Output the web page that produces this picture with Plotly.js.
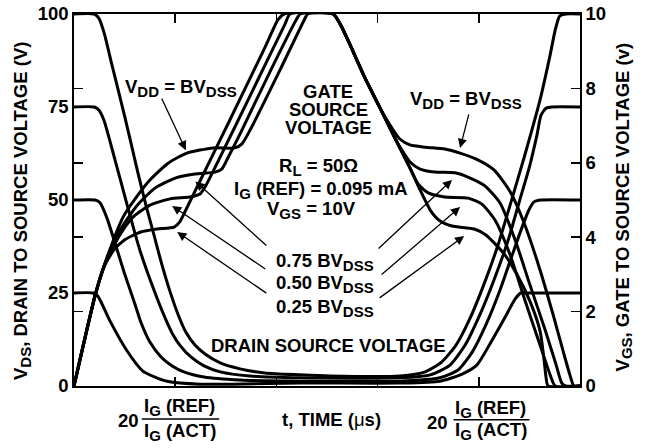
<!DOCTYPE html>
<html><head><meta charset="utf-8">
<script src="https://cdn.plot.ly/plotly-3.0.1.min.js"></script>
<style>html,body{margin:0;padding:0;background:#fff}</style>
</head><body>
<div id="chart" style="width:647px;height:448px"></div>
<script>
// time axis: 0..10 (arbitrary), drain voltage VDS (V), gate voltage VGS (V)
const d100_t = [0,0.40,0.49,0.59,0.75,1.01,1.26,1.42,1.58,1.74,1.90,2.06,2.21,2.39,2.59,2.89,3.28,3.77,4.47,5.06,6.44,6.94,7.27,7.55,7.83,8.12,8.38,8.62,8.91,9.21,9.41,9.51,9.60,9.72,10];
const d100_v = [100,100,98.9,95.2,86.3,72.0,57.5,48.7,40.6,32.5,25.3,19.1,14.5,11.0,8.6,6.2,4.6,3.5,3.0,2.7,2.7,3.8,6.5,11.0,18.3,28.0,37.9,48.7,62.1,76.9,89.0,95.7,99.5,100,100];

const d75_t = [0,0.40,0.49,0.59,0.81,1.05,1.30,1.58,1.80,1.94,2.09,2.31,2.57,2.89,3.48,4.47,6.44,7.04,7.43,7.73,8.02,8.30,8.58,8.81,9.01,9.15,9.23,9.33,9.45,10];
const d75_v = [75,75,74.2,71.5,60.8,48.7,36.6,25.8,18.3,14.2,11.0,7.8,5.4,3.8,2.7,2.2,2.2,3.0,5.6,11.0,19.1,28.5,39.2,50.0,59.4,67.5,72.8,74.7,75,75];

const d50_t = [0,0.42,0.51,0.65,0.99,1.21,1.32,1.50,1.72,1.94,2.17,2.57,3.28,4.47,6.44,7.23,7.59,7.87,8.14,8.42,8.66,8.85,8.99,9.09,9.21,10];
const d50_v = [50,50,49.3,45.2,30.6,21.8,17.2,11.8,7.8,5.4,3.8,2.4,1.6,1.3,1.3,2.2,4.3,9.1,16.4,25.8,35.2,42.5,47.3,49.5,50,50];

const d25_t = [0,0.38,0.47,0.71,1.05,1.36,1.60,1.84,2.49,3.14,4.47,6.44,7.23,7.67,7.96,8.22,8.50,8.72,8.83,8.97,10];
const d25_v = [25,25,24.2,17.5,9.4,4.0,2.4,1.3,0.5,0.5,0.8,0.8,1.3,3.2,5.6,11.3,18.0,23.4,25,25,25];

const g100_t = [0,0.43,0.67,0.97,1.25,1.50,1.86,2.23,2.75,3.18,3.32,3.48,4.07,4.55,4.62,5.12,5.26,5.45,5.75,6.05,6.28,6.44,6.64,6.94,7.33,7.63,7.98,8.30,8.62,8.91,9.21,9.47,9.66,9.80,9.88,10];
const g100_v = [0,2.50,3.52,4.54,5.11,5.54,5.99,6.26,6.40,6.40,6.51,6.88,8.49,9.84,10,10,9.73,9.19,8.28,7.47,6.94,6.64,6.48,6.42,6.37,6.26,6.08,5.81,5.22,4.33,3.12,1.91,0.97,0.30,0,0];

const g75_t = [0,0.43,0.65,0.91,1.25,1.60,2.00,2.39,2.79,2.92,3.04,3.28,3.87,4.39,4.47,5.12,5.26,5.45,5.75,6.05,6.34,6.48,6.64,6.84,7.13,7.53,7.83,8.12,8.42,8.72,9.01,9.31,9.53,9.64,9.72,10];
const g75_v = [0,2.50,3.44,4.19,4.86,5.32,5.59,5.70,5.75,5.83,6.13,6.77,8.44,9.84,10,10,9.73,9.19,8.28,7.47,6.67,6.34,6.02,5.83,5.75,5.73,5.59,5.38,4.92,3.92,2.72,1.51,0.56,0.08,0,0];

const g50_t = [0,0.43,0.63,0.87,1.15,1.50,1.90,2.29,2.49,2.61,2.89,3.48,4.17,4.27,5.12,5.26,5.45,5.75,6.05,6.34,6.64,6.80,7.00,7.33,7.79,8.06,8.32,8.62,8.91,9.21,9.41,9.51,10];
const g50_v = [0,2.50,3.33,3.98,4.52,4.86,5.03,5.08,5.16,5.40,6.16,7.80,9.73,10,10,9.73,9.19,8.28,7.47,6.67,5.86,5.43,5.19,5.08,5.05,4.89,4.46,3.52,2.31,1.10,0.30,0,0];

const g25_t = [0,0.43,0.59,0.79,0.99,1.32,1.64,1.98,2.09,2.21,2.49,3.08,3.77,4.03,4.15,5.12,5.26,5.45,5.75,6.05,6.34,6.64,6.84,7.04,7.23,7.47,7.91,8.14,8.50,8.75,9.01,9.21,9.29,9.33,9.37,10];
const g25_v = [0,2.50,3.20,3.66,3.92,4.14,4.22,4.27,4.41,4.73,5.51,7.15,9.09,9.84,10,10,9.73,9.19,8.28,7.47,6.67,5.86,5.27,4.73,4.44,4.30,4.22,4.06,3.55,3.01,2.28,1.48,0.70,0.22,0,0];

const leftTicks = [0,25,50,75,100];
const rightTicks = [0,2,4,6,8,10];
const timeTicks = [2,4,6,8];

const FONT = 'Liberation Sans, Arial, Helvetica, sans-serif';
const ln = {color:'#000', width:3, shape:'spline', smoothing:0.6};
const S = s => '<sub><span style="font-size:15px">' + s + '</span></sub>';

function tr(t, v, axis){ return {x:t, y:v, yaxis:axis, type:'scatter', mode:'lines', line:ln, hoverinfo:'skip', showlegend:false}; }

const data = [
  tr(d100_t,d100_v,'y'), tr(d75_t,d75_v,'y'), tr(d50_t,d50_v,'y'), tr(d25_t,d25_v,'y'),
  tr(g100_t,g100_v,'y2'), tr(g75_t,g75_v,'y2'), tr(g50_t,g50_v,'y2'), tr(g25_t,g25_v,'y2')
];

const F = {family:FONT,size:18.5,color:'#000',weight:'bold'};
function txt(x,y,text,extra){ return Object.assign({x:x,y:y,xref:'x',yref:'y',text:text,showarrow:false,font:F,xanchor:'center',yanchor:'middle'}, extra||{}); }
function arr(x,y,ax,ay){ return {x:x,y:y,ax:ax,ay:ay,xref:'x',yref:'y',axref:'x',ayref:'y',text:'',showarrow:true,arrowhead:2,arrowsize:1.4,arrowwidth:1.3,arrowcolor:'#000',standoff:0,startstandoff:0}; }
function ptxt(x,y,text,extra){ return Object.assign({x:x,y:y,xref:'paper',yref:'paper',text:text,showarrow:false,font:F,xanchor:'center',yanchor:'middle'}, extra||{}); }

const annotations = [
  txt(2.11,80.0,'V'+S('DD')+' = BV'+S('DSS')),
  txt(7.75,76.8,'V'+S('DD')+' = BV'+S('DSS')),
  txt(5.02,79.2,'GATE',{height:16}),
  txt(5.02,74.4,'SOURCE',{height:16}),
  txt(5.02,69.6,'VOLTAGE',{height:16}),
  txt(4.84,59.0,'R'+S('L')+' = 50Ω'),
  txt(4.88,52.8,'I'+S('G')+' (REF) = 0.095 mA'),
  txt(4.70,47.2,'V'+S('GS')+' = 10V'),
  txt(4.96,33.4,'0.75 BV'+S('DSS')),
  txt(4.96,27.3,'0.50 BV'+S('DSS')),
  txt(4.96,21.1,'0.25 BV'+S('DSS')),
  txt(5.02,10.8,'DRAIN SOURCE VOLTAGE'),
  arr(2.21,63.4,1.72,77.7),
  arr(7.63,64.0,7.81,73.4),
  arr(2.40,55.0,3.83,37.4),
  arr(1.94,48.4,3.81,31.2),
  arr(2.04,41.4,3.83,24.7),
  arr(7.47,55.4,5.99,36.6),
  arr(7.63,48.1,6.05,29.6),
  arr(7.71,40.3,6.01,23.4),
  // axis titles
  ptxt(-0.103,0.47,'V'+S('DS')+', DRAIN TO SOURCE VOLTAGE (V)',{textangle:-90}),
  ptxt(1.087,0.48,'V'+S('GS')+', GATE TO SOURCE VOLTAGE (v)',{textangle:-90}),
  ptxt(0.508,-0.089,'t, TIME (<span style="font-weight:normal">μ</span>s)'),
  ptxt(0.108,-0.094,'20'),
  ptxt(0.209,-0.056,'I'+S('G')+' (REF)'),
  ptxt(0.209,-0.124,'I'+S('G')+' (ACT)'),
  ptxt(0.718,-0.097,'20'),
  ptxt(0.824,-0.062,'I'+S('G')+' (REF)'),
  ptxt(0.824,-0.121,'I'+S('G')+' (ACT)')
];

const shapes = [
  {type:'line',xref:'paper',yref:'paper',x0:0.134,x1:0.287,y0:-0.089,y1:-0.089,line:{color:'#000',width:1.5}},
  {type:'line',xref:'paper',yref:'paper',x0:0.750,x1:0.900,y0:-0.091,y1:-0.091,line:{color:'#000',width:1.5}}
];

const layout = {
  width:647, height:448,
  margin:{l:74,r:67,t:14,b:62,pad:0},
  paper_bgcolor:'#fff', plot_bgcolor:'#fff',
  font:{family:FONT,size:18,color:'#000',weight:'bold'},
  showlegend:false,
  xaxis:{range:[0,10],tickvals:timeTicks,ticks:'inside',ticklen:9,tickwidth:1.5,tickcolor:'#000',showticklabels:false,
         showline:true,linewidth:1.8,linecolor:'#000',mirror:'ticks',showgrid:false,zeroline:false,fixedrange:true},
  yaxis:{range:[0,100],tickvals:leftTicks,ticks:'',showline:true,linewidth:1.8,linecolor:'#000',mirror:true,
         showgrid:false,zeroline:false,tickfont:{family:FONT,size:18.5,color:'#000',weight:'bold'},fixedrange:true},
  yaxis2:{range:[0,10],overlaying:'y',side:'right',tickvals:rightTicks,ticks:'inside',ticklen:9,tickwidth:1.5,tickcolor:'#000',
          showline:true,linewidth:1.8,linecolor:'#000',mirror:'ticks',showgrid:false,zeroline:false,
          tickfont:{family:FONT,size:18.5,color:'#000',weight:'bold'},fixedrange:true},
  annotations:annotations,
  shapes:shapes
};

Plotly.newPlot('chart', data, layout, {displayModeBar:false, staticPlot:true});
</script>
</body></html>
